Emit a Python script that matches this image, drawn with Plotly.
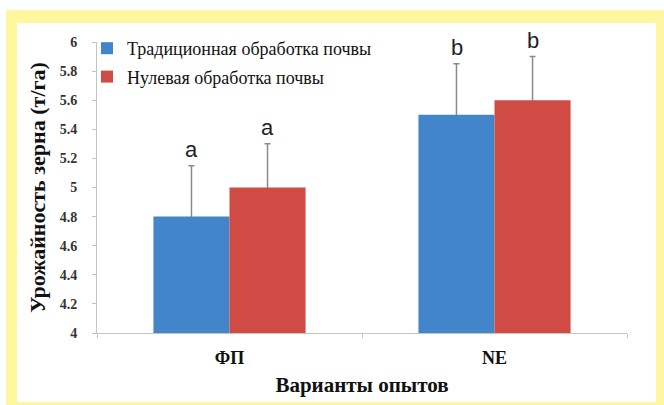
import plotly.graph_objects as go

# Data
categories = ["ФП", "NE"]
series_names = ["Традиционная обработка почвы", "Нулевая обработка почвы"]
traditional = [4.8, 5.5]
zero_till = [5.0, 5.6]
traditional_err = [0.35, 0.35]
zero_till_err = [0.3, 0.3]
traditional_letters = ["a", "b"]
zero_till_letters = ["a", "b"]
y_ticks = [4, 4.2, 4.4, 4.6, 4.8, 5, 5.2, 5.4, 5.6, 5.8, 6]
y_tick_text = ["4", "4.2", "4.4", "4.6", "4.8", "5", "5.2", "5.4", "5.6", "5.8", "6"]

W, H = 664, 405
L, R, T, B = 97, 37, 42, 72
PW, PH = W - L - R, H - T - B

BLUE = "#4285ca"
RED = "#cf4b43"
ERR = "#8a8a8a"
AXIS = "#c4c4c4"
SERIF = "Liberation Serif, Times New Roman, serif"


def px_x(p):
    return (p - L) / PW


def px_y(p):
    return (H - B - p) / PH


fig = go.Figure()
for name, vals, errs, color, grp in [
    (series_names[0], traditional, traditional_err, BLUE, "g1"),
    (series_names[1], zero_till, zero_till_err, RED, "g2"),
]:
    # transparent twin bar carrying the error bar; the solid bar drawn
    # after it hides the lower half so only the upper whisker shows
    fig.add_trace(go.Bar(
        x=categories, y=vals, name=name, offsetgroup=grp, showlegend=False,
        hoverinfo="skip", marker=dict(color="rgba(0,0,0,0)", line=dict(width=0)),
        error_y=dict(type="data", array=errs, color=ERR, thickness=1.5, width=3),
    ))
    fig.add_trace(go.Bar(
        x=categories, y=vals, name=name, offsetgroup=grp, legendgroup=grp,
        marker=dict(color=color, line=dict(width=0)),
    ))

# significance letters above the error bars
for vals, errs, letters, shift in [
    (traditional, traditional_err, traditional_letters, -38),
    (zero_till, zero_till_err, zero_till_letters, 38),
]:
    for c, v, e, t in zip(categories, vals, errs, letters):
        fig.add_annotation(x=c, y=v + e, text=t, showarrow=False,
                           xshift=shift, yanchor="bottom", yshift=2,
                           font=dict(family="Liberation Sans", size=22, color="#222"))

# yellow frame behind the chart panel
fig.add_shape(type="rect", xref="paper", yref="paper", layer="below",
              x0=px_x(6), x1=px_x(664), y0=px_y(405), y1=px_y(10),
              fillcolor="#fff6a0", line=dict(width=0))
fig.add_shape(type="rect", xref="paper", yref="paper", layer="below",
              x0=px_x(17), x1=px_x(656), y0=px_y(402), y1=px_y(23),
              fillcolor="white", line=dict(width=0))

fig.update_layout(
    width=W, height=H,
    margin=dict(l=L, r=R, t=T, b=B),
    paper_bgcolor="white", plot_bgcolor="rgba(0,0,0,0)",
    barmode="group", bargap=0.426, bargroupgap=0,
    showlegend=True,
    legend=dict(x=px_x(87), y=px_y(30), xanchor="left", yanchor="top",
                bgcolor="rgba(0,0,0,0)", tracegroupgap=2,
                font=dict(family=SERIF, size=18, color="#111")),
    xaxis=dict(
        showline=True, linecolor=AXIS, linewidth=1,
        ticks="outside", tickson="boundaries", ticklen=4, tickcolor=AXIS,
        ticklabelstandoff=8,
        tickfont=dict(family=SERIF, size=18, color="#111", weight="bold"),
        title=dict(text="Варианты опытов", standoff=10,
                   font=dict(family=SERIF, size=21, color="#111", weight="bold")),
        showgrid=False, zeroline=False,
    ),
    yaxis=dict(
        range=[4, 6], tickvals=y_ticks, ticktext=y_tick_text,
        showline=True, linecolor=AXIS, linewidth=1,
        ticks="outside", ticklen=4, tickcolor=AXIS,
        ticklabelstandoff=12,
        tickfont=dict(family=SERIF, size=14, color="#333", weight="bold"),
        title=dict(text="Урожайность зерна (т/га)", standoff=8,
                   font=dict(family=SERIF, size=22, color="#111", weight="bold")),
        showgrid=False, zeroline=False,
    ),
)

fig.write_html("out.html")
